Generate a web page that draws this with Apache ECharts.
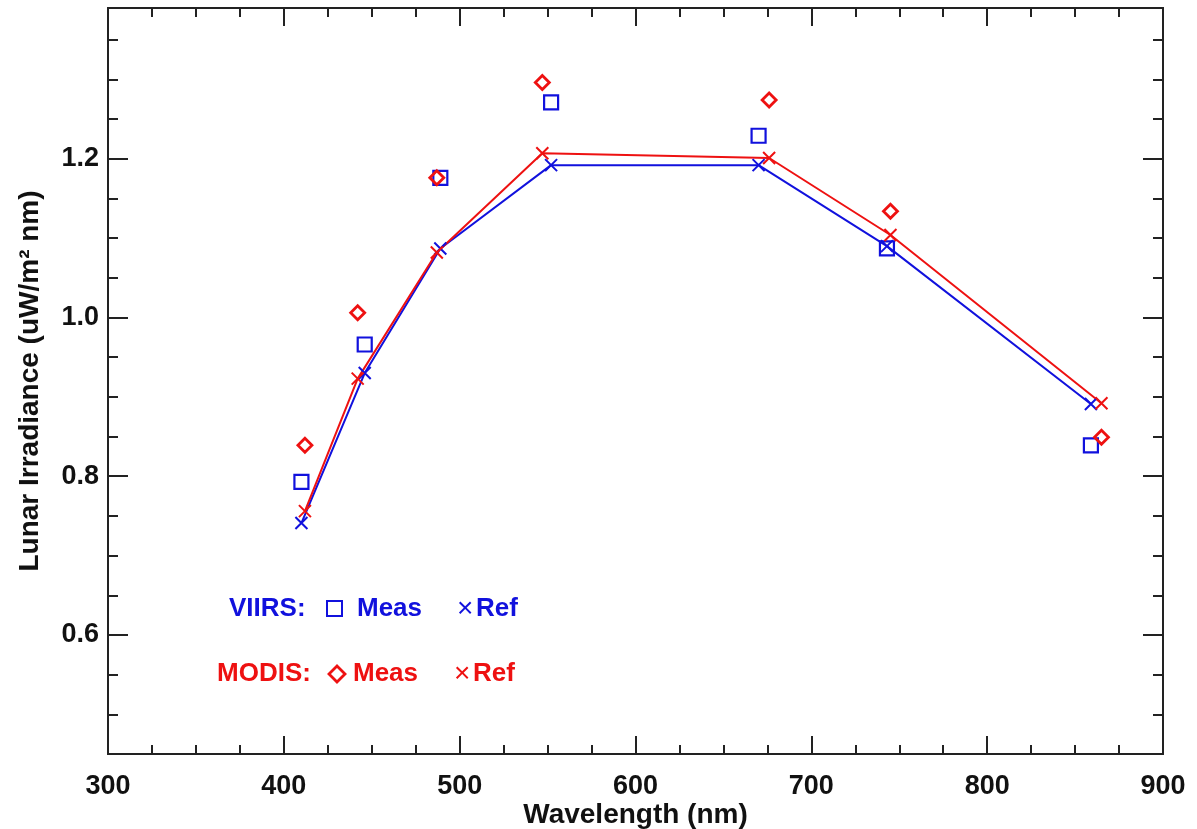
<!DOCTYPE html>
<html>
<head>
<meta charset="utf-8">
<script src="https://cdn.jsdelivr.net/npm/echarts@6/dist/echarts.min.js"></script>
<style>
  html, body { margin: 0; padding: 0; background: #fff; }
  #main { width: 1197px; height: 829px; }
</style>
</head>
<body>
<div id="main"></div>
<script>
// lunar irradiance, VIIRS vs MODIS
var viirsWl = [410, 446, 489, 552, 670, 743, 859];
var viirsMeas = [0.793, 0.966, 1.176, 1.271, 1.229, 1.087, 0.839];
var viirsRef = [0.741, 0.930, 1.087, 1.192, 1.192, 1.090, 0.891];

var modisWl = [412, 442, 487, 547, 676, 745, 865];
var modisMeas = [0.839, 1.006, 1.176, 1.296, 1.274, 1.134, 0.849];
var modisRef = [0.756, 0.923, 1.082, 1.207, 1.201, 1.104, 0.892];

var yMajorTicks = [0.6, 0.8, 1.0, 1.2];
var yMinorTicks = [0.5, 0.55, 0.65, 0.7, 0.75, 0.85, 0.9, 0.95, 1.05, 1.1, 1.15, 1.25, 1.3, 1.35];

(function(){
    var BLUE = '#1111dd', RED = '#ee1111', INK = '#222';
    var FONT = "'Liberation Sans', Arial, sans-serif";
    var cross = 'path://M0,0L10,10M0,10L10,0';

    function pairs(xs, ys) {
        return xs.map(function(x, i){ return [x, ys[i]]; });
    }

    function xAx(pos, labels) {
        return {
            type: 'value', position: pos, min: 300, max: 900, interval: 100,
            name: labels ? 'Wavelength (nm)' : '',
            nameLocation: 'middle', nameGap: 47, nameMoveOverlap: false,
            nameTextStyle: {fontFamily: FONT, fontWeight: 'bold', fontSize: 28, color: '#111'},
            axisLine: {show: true, onZero: false, lineStyle: {color: INK, width: 2}},
            axisTick: {show: true, inside: true, length: 18, lineStyle: {color: INK, width: 2}},
            minorTick: {show: true, splitNumber: 4, length: 9, lineStyle: {color: INK, width: 2}},
            axisLabel: {show: labels, margin: 19, fontFamily: FONT, fontWeight: 'bold', fontSize: 27, color: '#111'},
            splitLine: {show: false}
        };
    }

    function yAx(pos, ticks, len, labels) {
        return {
            type: 'value', position: pos, min: 0.45, max: 1.39,
            name: labels ? 'Lunar Irradiance (uW/m\u00b2 nm)' : '',
            nameLocation: 'middle', nameGap: 64, nameRotate: 90, nameMoveOverlap: false,
            nameTextStyle: {fontFamily: FONT, fontWeight: 'bold', fontSize: 28, color: '#111'},
            axisLine: {show: true, onZero: false, lineStyle: {color: INK, width: 2}},
            axisTick: {show: true, inside: true, length: len, customValues: ticks, lineStyle: {color: INK, width: 2}},
            axisLabel: {show: labels, margin: 9, customValues: yMajorTicks, fontFamily: FONT, fontWeight: 'bold', fontSize: 27, color: '#111',
                formatter: function(v){ return v.toFixed(1); }},
            splitLine: {show: false}
        };
    }

    function legendText(x, y, text, color, weight, size) {
        return {type: 'text', x: x, y: y,
            style: {text: text, fill: color, font: (weight || 'bold') + ' ' + (size || 26) + 'px ' + FONT, verticalAlign: 'middle'}};
    }

    var option = {
        animation: false,
        backgroundColor: '#fff',
        grid: {left: 108, right: 34, top: 8, bottom: 75, containLabel: false, outerBoundsMode: 'none'},
        xAxis: [xAx('bottom', true), xAx('top', false)],
        yAxis: [
            yAx('left', yMajorTicks, 20, true),
            yAx('left', yMinorTicks, 10, false),
            yAx('right', yMajorTicks, 20, false),
            yAx('right', yMinorTicks, 10, false)
        ],
        series: [
            {
                name: 'VIIRS Ref', type: 'line', data: pairs(viirsWl, viirsRef),
                symbol: cross, symbolSize: 12, z: 3,
                lineStyle: {color: BLUE, width: 2},
                itemStyle: {color: 'none', borderColor: BLUE, borderWidth: 2}
            },
            {
                name: 'MODIS Ref', type: 'line', data: pairs(modisWl, modisRef),
                symbol: cross, symbolSize: 12, z: 3,
                lineStyle: {color: RED, width: 2},
                itemStyle: {color: 'none', borderColor: RED, borderWidth: 2}
            },
            {
                name: 'VIIRS Meas', type: 'scatter', data: pairs(viirsWl, viirsMeas),
                symbol: 'rect', symbolSize: 14,
                itemStyle: {color: 'rgba(0,0,0,0)', borderColor: BLUE, borderWidth: 2.2, opacity: 1}
            },
            {
                name: 'MODIS Meas', type: 'scatter', data: pairs(modisWl, modisMeas),
                symbol: 'diamond', symbolSize: 14,
                itemStyle: {color: 'rgba(0,0,0,0)', borderColor: RED, borderWidth: 2.8, opacity: 1}
            }
        ],
        graphic: [
            legendText(229, 609, 'VIIRS:', BLUE),
            {type: 'rect', shape: {x: 327, y: 601, width: 15, height: 15},
                style: {fill: 'none', stroke: BLUE, lineWidth: 2}},
            legendText(357, 609, 'Meas', BLUE),
            legendText(457, 609, '\u00d7', BLUE, 'normal', 28),
            legendText(476, 609, 'Ref', BLUE),
            legendText(217, 674, 'MODIS:', RED),
            {type: 'polygon', shape: {points: [[337, 666], [345, 674], [337, 682], [329, 674]]},
                style: {fill: 'none', stroke: RED, lineWidth: 2.8}},
            legendText(353, 674, 'Meas', RED),
            legendText(454, 674, '\u00d7', RED, 'normal', 28),
            legendText(473, 674, 'Ref', RED)
        ]
    };

    var chart = echarts.init(document.getElementById('main'), null, {renderer: 'canvas'});
    chart.setOption(option);
}())
</script>
</body>
</html>
